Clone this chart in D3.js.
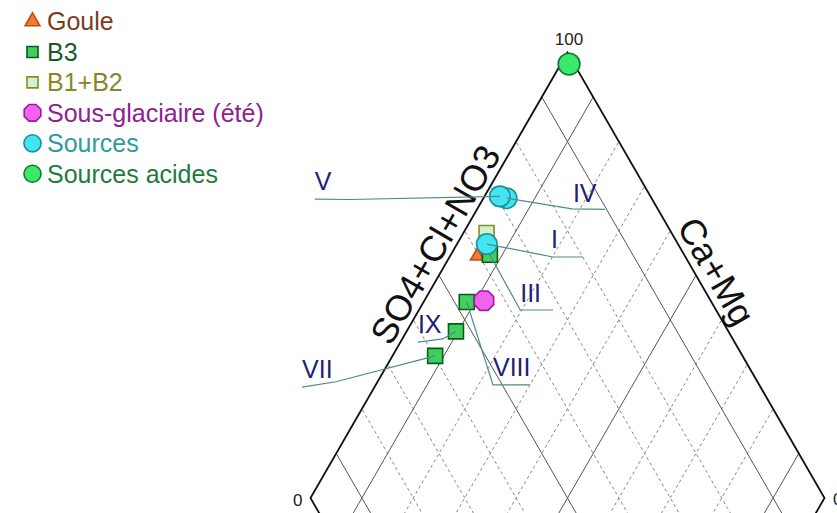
<!DOCTYPE html>
<html>
<head>
<meta charset="utf-8">
<script src="https://cdn.jsdelivr.net/npm/d3@7"></script>
<style>
  body { margin: 0; background: #fff; }
  svg { display: block; font-family: Arial, "Liberation Sans", sans-serif; }
</style>
</head>
<body>
<svg id="chart" width="837" height="513"></svg>
<script>
// values: SO4+Cl+NO3 (%) and Ca+Mg (%) for each sample
const seriesNames = ["Goule", "B3", "B1+B2", "Sous-glaciaire (été)", "Sources", "Sources acides"]
const gouleSO4 = [94.7]
const gouleCaMg = [59.6]
const b3SO4 = [92.4, 91.6, 90.4, 91.7]
const b3CaMg = [62.2, 52.4, 47.0, 40.2]
const b12SO4 = [95.5]
const b12CaMg = [64.0]
const sousGlSO4 = [88.4]
const sousGlCaMg = [55.9]
const sourcesSO4 = [95.5, 97.0, 94.2]
const sourcesCaMg = [71.8, 70.7, 62.8]
const acidesSO4 = [98.4]
const acidesCaMg = [99.0]

const gridTicks = [10, 20, 30, 40, 50, 60, 70, 80, 90]
const majorTicks = [10, 50, 90]
const axisTitles = ["SO4+Cl+NO3", "Ca+Mg"]

// roman labels: sample they point at, text position and leader bends, all in (SO4, CaMg) units
const annotations = [
    { text: "V",    series: "Sources", i: 1, at: [133.7, 35.4], bends: [[125.8, 41.2], [132.7, 34.4]] },
    { text: "IV",   series: "Sources", i: 0, at: [82.2, 84.3],  bends: [[81.6, 83.3], [75.1, 89.7]] },
    { text: "I",    series: "Sources", i: 2, at: [81.3, 74.9],  bends: [[79.9, 74.2], [74.0, 80.1]] },
    { text: "III",  series: "B3", i: 0,      at: [81.2, 62.8],  bends: [[80.3, 61.9], [73.9, 68.3]] },
    { text: "VIII", series: "B3", i: 1,      at: [78.2, 49.2],  bends: [[77.2, 48.2], [70.0, 55.4]] },
    { text: "IX",   series: "B3", i: 2,      at: [97.6, 39.4],  bends: [[92.1, 43.6], [96.6, 38.4]] },
    { text: "VII",  series: "B3", i: 3,      at: [115.1, 11.8], bends: [[108.1, 18.0], [114.1, 10.8]] }
]

const styles = {
    "Goule":                { shape: "triangle", fill: "#f47a30", stroke: "#c04c14", text: "#7c3b1c", size: 80,  legend: 95 },
    "B3":                   { shape: "square",   fill: "#3fd05e", stroke: "#0d5a1e", text: "#1d5a2c", size: 225, legend: 121 },
    "B1+B2":                { shape: "square",   fill: "#cff3d2", stroke: "#8e8a22", text: "#8a8628", size: 225, legend: 121 },
    "Sous-glaciaire (été)": { shape: "octagon",  fill: "#f262f0", stroke: "#9e1aa0", text: "#8e2290", size: 10.5, legend: 9 },
    "Sources":              { shape: "circle",   fill: "#42e6f0", stroke: "#1e8f98", text: "#2e9aa0", size: 330, legend: 230 },
    "Sources acides":       { shape: "circle",   fill: "#3ae86a", stroke: "#117a30", text: "#1f7a40", size: 370, legend: 230 }
}

const seriesData = {
    "Goule": d3.zip(gouleSO4, gouleCaMg),
    "B3": d3.zip(b3SO4, b3CaMg),
    "B1+B2": d3.zip(b12SO4, b12CaMg),
    "Sous-glaciaire (été)": d3.zip(sousGlSO4, sousGlCaMg),
    "Sources": d3.zip(sourcesSO4, sourcesCaMg),
    "Sources acides": d3.zip(acidesSO4, acidesCaMg)
}

const svg = d3.select("#chart")

// diamond: x from (CaMg - SO4), y from (SO4 + CaMg)
const xScale = d3.scaleLinear().domain([-100, 100]).range([310.5, 824.5])
const yScale = d3.scaleLinear().domain([100, 200]).range([498, 52.5])
const proj = (s, c) => [xScale(c - s), yScale(s + c)]

function symbolPath(st, size) {
    if (st.shape === "octagon") {
        const pts = d3.range(8).map(k => {
            const a = Math.PI / 8 + k * Math.PI / 4
            return [size * Math.cos(a), size * Math.sin(a)]
        })
        return "M" + pts.join("L") + "Z"
    }
    const type = { triangle: d3.symbolTriangle, square: d3.symbolSquare, circle: d3.symbolCircle }[st.shape]
    return d3.symbol(type, size)()
}

// grid
const grid = svg.append("g")
gridTicks.forEach(k => {
    const major = majorTicks.includes(k)
    const lines = [[proj(k, 0), proj(k, 100)], [proj(0, k), proj(100, k)]]
    lines.forEach(l => {
        grid.append("line")
            .attr("x1", l[0][0]).attr("y1", l[0][1])
            .attr("x2", l[1][0]).attr("y2", l[1][1])
            .attr("stroke", major ? "#555" : "#777")
            .attr("stroke-width", major ? 1 : 0.9)
            .attr("stroke-dasharray", major ? null : "3,3")
    })
})

// outline
svg.append("path")
    .attr("d", "M" + [proj(100, 100), proj(100, 0), proj(0, 0), proj(0, 100)].join("L") + "Z")
    .attr("fill", "none")
    .attr("stroke", "#111")
    .attr("stroke-width", 1.8)

// corner labels
const apex = proj(100, 100), leftV = proj(100, 0), rightV = proj(0, 100)
svg.append("text").attr("x", apex[0] + 1.5).attr("y", apex[1] - 7.5)
    .attr("text-anchor", "middle").attr("font-size", 17).attr("fill", "#222").text("100")
svg.append("text").attr("x", leftV[0] - 8).attr("y", leftV[1] + 8)
    .attr("text-anchor", "end").attr("font-size", 17).attr("fill", "#222").text("0")
svg.append("text").attr("x", rightV[0] + 8.5).attr("y", rightV[1] + 7)
    .attr("font-size", 17).attr("fill", "#222").text("0")

// axis titles, sitting just outside the two upper edges
const pL = proj(100, 54.8)
svg.append("text")
    .attr("transform", `translate(${pL[0] - 0.866 * 6}, ${pL[1] - 0.5 * 6}) rotate(-60)`)
    .attr("text-anchor", "middle").attr("font-size", 36).attr("fill", "#111")
    .text(axisTitles[0])
const pR = proj(48.7, 100)
svg.append("text")
    .attr("transform", `translate(${pR[0] + 0.866 * 7}, ${pR[1] - 0.5 * 7}) rotate(60)`)
    .attr("text-anchor", "middle").attr("font-size", 36).attr("fill", "#111")
    .text(axisTitles[1])

// markers
const marks = svg.append("g")
seriesNames.forEach(name => {
    const st = styles[name]
    marks.selectAll(null)
        .data(seriesData[name])
        .join("path")
            .attr("d", symbolPath(st, st.size))
            .attr("transform", d => `translate(${proj(d[0], d[1])})`)
            .attr("fill", st.fill)
            .attr("stroke", st.stroke)
            .attr("stroke-width", 1.6)
})

// annotations
const ann = svg.append("g")
annotations.forEach(a => {
    const p = seriesData[a.series][a.i]
    const line = [proj(p[0], p[1])].concat(a.bends.map(b => proj(b[0], b[1])))
    ann.append("path")
        .attr("d", d3.line()(line))
        .attr("fill", "none")
        .attr("stroke", "#4f8a88")
        .attr("stroke-width", 1.2)
    const t = proj(a.at[0], a.at[1])
    ann.append("text")
        .attr("x", t[0]).attr("y", t[1])
        .attr("font-size", 25)
        .attr("fill", "#1e2078")
        .text(a.text)
})

// legend
const legend = svg.append("g")
seriesNames.forEach((name, i) => {
    const st = styles[name]
    const y = 30.3 + i * 30.45
    legend.append("path")
        .attr("d", symbolPath(st, st.legend))
        .attr("transform", `translate(32.5, ${y - 8.8})`)
        .attr("fill", st.fill)
        .attr("stroke", st.stroke)
        .attr("stroke-width", 1.6)
    legend.append("text")
        .attr("x", 47).attr("y", y)
        .attr("font-size", 25)
        .attr("fill", st.text)
        .text(name)
})
</script>
</body>
</html>
